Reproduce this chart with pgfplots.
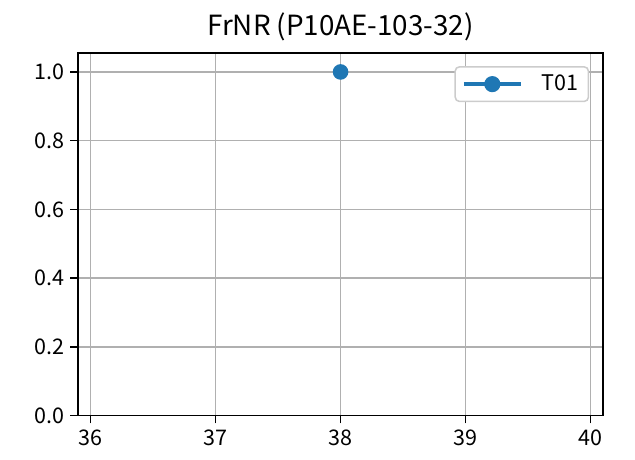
\documentclass[border=0pt]{standalone}
\usepackage{pgfplots}
\pgfplotsset{compat=1.18}
\usepackage{fontspec}
\setmainfont{Noto Sans CJK SC}
\definecolor{tabblue}{HTML}{1F77B4}
\definecolor{gridgray}{HTML}{B0B0B0}
\begin{document}
\begin{tikzpicture}
\begin{axis}[
  at={(0,0)}, anchor=south west,
  scale only axis,
  width=378pt, height=261pt,
  xmin=35.9, xmax=40.1,
  ymin=0, ymax=1.055,
  xtick={36,37,38,39,40},
  ytick={0,0.2,0.4,0.6,0.8,1.0},
  yticklabel style={/pgf/number format/fixed, /pgf/number format/fixed zerofill, /pgf/number format/precision=1, xshift=-1pt},
  /pgf/number format/assume math mode=true,
  tick label style={font=\fontsize{15.5}{18}\selectfont},
  xticklabel style={yshift=-1pt},
  tick align=outside,
  tick pos=left,
  major tick length=5.6pt,
  every tick/.style={black, line width=1.2pt},
  axis line style={line width=1.2pt},
  grid=major,
  major grid style={gridgray, line width=1.2pt},
  title={FrNR (P10AE-103-32)},
  title style={font=\fontsize{20}{24}\selectfont, yshift=-1pt},
  legend style={font=\fontsize{15.5}{18}\selectfont, draw=black!20, line width=1.1pt, rounded corners=3pt, fill=white, at={(1,1)}, anchor=north east, xshift=-10pt, yshift=-9.4pt, inner xsep=5pt, inner ysep=4pt},
  legend cell align=left,
  legend image code/.code={\draw[#1, line width=2.4pt] (0pt,0pt) -- (41pt,0pt); \draw[#1, mark=*, mark size=4.6pt, mark options={solid}] plot coordinates {(20.5pt,0pt)};},
]
\addplot[color=tabblue, line width=2.4pt, mark=*, mark size=4.4pt] coordinates {(38,1.0)};
\addlegendentry{\hspace{12pt}T01}
\end{axis}
\path (-56.2pt,-31.7pt) rectangle (401pt,299.2pt);
\end{tikzpicture}
\end{document}
